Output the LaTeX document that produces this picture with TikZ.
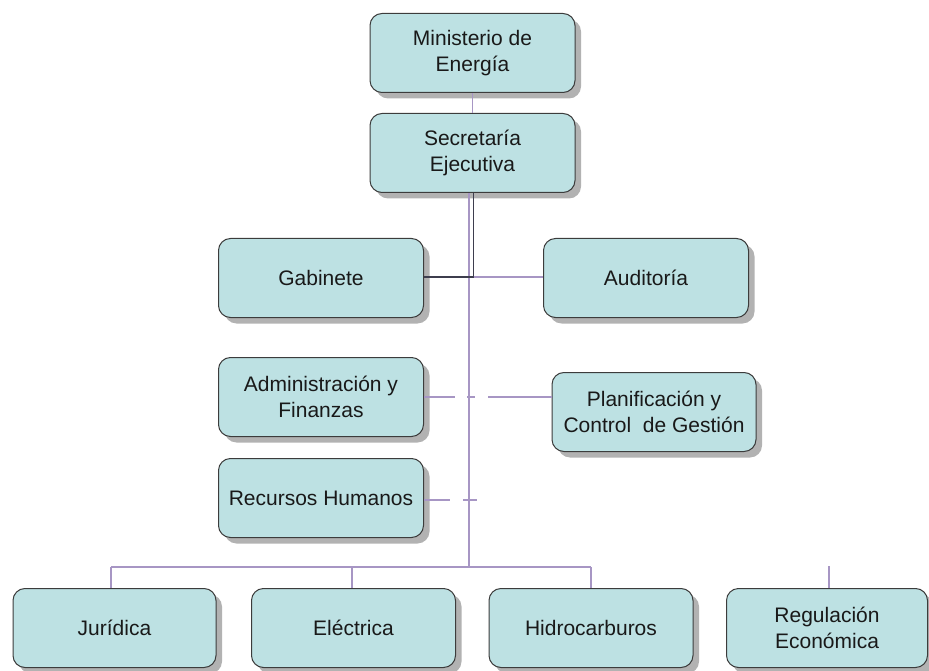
\documentclass[tikz,border=0pt]{standalone}
\usepackage{fontspec}
\setmainfont{Liberation Sans}
\usetikzlibrary{shadows}
\definecolor{boxfill}{HTML}{BDE1E3}
\definecolor{boxline}{HTML}{3C3C3C}
\definecolor{purp}{HTML}{A796C4}
\definecolor{darkln}{HTML}{3E3E4E}
\tikzset{
  orgbox/.style={draw=boxline, line width=1pt, fill=boxfill, rounded corners=12pt,
    minimum width=205pt, minimum height=79pt, align=center, inner sep=2pt,
    font=\fontsize{21}{26}\selectfont, text=black!90,
    drop shadow={shadow xshift=6pt, shadow yshift=-6pt, fill=black, opacity=0.3}},
  purpline/.style={draw=purp, line width=1.8pt},
  darkline/.style={draw=darkln, line width=1.6pt},
}
\begin{document}
\begin{tikzpicture}[x=1pt,y=-1pt]
\useasboundingbox (0,0) rectangle (929,671);
\node[orgbox] (min) at (472.5,53) {Ministerio de\\Energía};
\node[orgbox] (sec) at (472.5,153) {Secretaría\\Ejecutiva};
\node[orgbox] (gab) at (321,278) {Gabinete};
\node[orgbox] (aud) at (646,278) {Auditoría};
\node[orgbox] (adm) at (321,397) {Administración y\\Finanzas};
\node[orgbox, minimum width=204pt] (pla) at (654,412) {Planificación y\\Control\ \ de Gestión};
\node[orgbox] (rrhh) at (321,498) {Recursos Humanos};
\node[orgbox, minimum width=203pt] (jur) at (114.5,628) {Jurídica};
\node[orgbox, minimum width=204pt] (ele) at (353.5,628) {Eléctrica};
\node[orgbox, minimum width=204pt] (hid) at (591,628) {Hidrocarburos};
\node[orgbox, minimum width=201pt] (reg) at (827,628) {Regulación\\Económica};

% junction coordinates
\coordinate (trunktop) at (469,193);
\coordinate (trunkbot) at (469,567);
\coordinate (darktop) at (473.5,193);
\coordinate (gabjn) at (473.5,277);
\coordinate (admgap1) at (455,397);
\coordinate (admtick1) at (467,397);
\coordinate (admtick2) at (475,397);
\coordinate (admgap2) at (488,397);
\coordinate (rhgap1) at (450,500);
\coordinate (rhtick1) at (463,500);
\coordinate (rhtick2) at (477,500);
\coordinate (jurdrop) at (111,567);
\coordinate (eledrop) at (352,567);
\coordinate (hiddrop) at (591,567);
\coordinate (regtop) at (829,566);

\draw[purpline] (min.south) -- (sec.north);
\draw[purpline] (trunktop) -- (trunkbot);
\draw[darkline] (darktop) -- (gabjn) -- (gabjn -| gab.east);
\draw[purpline] (gabjn) -- (gabjn -| aud.west);
\draw[purpline] (adm.east) -- (admgap1);
\draw[purpline, line width=2.4pt] (admtick1) -- (admtick2);
\draw[purpline] (admgap2) -- (admgap2 -| pla.west);
\draw[purpline] (rrhh.east |- rhgap1) -- (rhgap1);
\draw[purpline, line width=2.2pt] (rhtick1) -- (rhtick2);
\draw[purpline] (jurdrop) -- (hiddrop);
\draw[purpline] (jurdrop) -- (jurdrop |- jur.north);
\draw[purpline] (eledrop) -- (eledrop |- ele.north);
\draw[purpline] (hiddrop) -- (hiddrop |- hid.north);
\draw[purpline] (regtop) -- (regtop |- reg.north);
\end{tikzpicture}
\end{document}
